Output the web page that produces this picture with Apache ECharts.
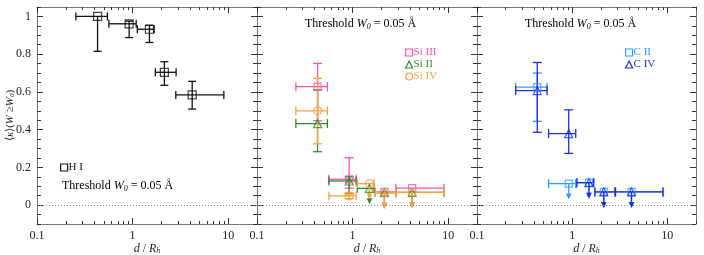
<!DOCTYPE html>
<html><head><meta charset="utf-8">
<script src="https://cdn.jsdelivr.net/npm/echarts@6/dist/echarts.min.js"></script>
<style>html,body{margin:0;padding:0;background:#fff}#c{width:704px;height:255px}</style>
</head><body><div id="c"></div>
<script>
// ---- tick labels ----
const xTickLabels = [0.1, 1, 10];
const xMinorTicks = [0.2, 0.3, 0.4, 0.5, 0.6, 0.7, 0.8, 0.9, 2, 3, 4, 5, 6, 7, 8, 9, 20];
const yTickLabels = [0, 0.2, 0.4, 0.6, 0.8, 1];
const yMinorTicks = [-0.1, -0.05, 0.05, 0.1, 0.15, 0.25, 0.3, 0.35, 0.45, 0.5, 0.55, 0.65, 0.7, 0.75, 0.85, 0.9, 0.95, 1.05];

// ---- impact-parameter bins (d / R_h) ----
const xCenters = [0.43, 0.92, 1.5, 2.15, 4.2];
const xLow = [0.255, 0.565, 1.12, 1.73, 2.83];
const xHigh = [0.545, 1.09, 1.68, 2.85, 9.0];

// ---- H I ----
const hiY = [1.0, 0.961, 0.932, 0.704, 0.584];
const hiYLow = [0.815, 0.888, 0.862, 0.635, 0.509];
const hiYHigh = [1.0, 0.975, 0.953, 0.760, 0.656];
const hiLim = [0, 0, 0, 0, 0];

// ---- Si III ----
const si3Y = [0.628, 0.137, null, 0.07, 0.09];
const si3YLow = [0.447, 0.09, null, null, null];
const si3YHigh = [0.751, 0.251, null, null, null];
const si3Lim = [0, 0, 0, 0, 0];

// ---- Si II ----
const si2Y = [0.432, 0.128, 0.089, 0.066, 0.068];
const si2YLow = [0.283, 0.06, null, null, null];
const si2YHigh = [0.61, 0.15, null, null, null];
const si2Lim = [0, 0, 1, 1, 1];

// ---- Si IV ----
const si4Y = [0.5, 0.049, 0.114, 0.066, 0.068];
const si4YLow = [0.325, 0.035, null, null, null];
const si4YHigh = [0.672, 0.065, null, null, null];
const si4Lim = [0, 0, 1, 1, 1];

// ---- C II ----
const c2Y = [0.625, 0.114, 0.119, 0.07, 0.07];
const c2YLow = [0.444, null, null, null, null];
const c2YHigh = [0.70, null, null, null, null];
const c2Lim = [0, 1, 1, 1, 1];

// ---- C IV ----
const c4Y = [0.607, 0.379, 0.119, 0.07, 0.07];
const c4YLow = [0.386, 0.274, null, null, null];
const c4YHigh = [0.756, 0.505, null, null, null];
const c4Lim = [0, 0, 1, 1, 1];

const FONT = 'Liberation Serif';
const AX = '#777';
const TK = '#333';

const grids = [
  {left: 37, top: 7, width: 220, height: 217, outerBoundsMode: 'none', containLabel: false},
  {left: 257, top: 7, width: 220, height: 217, outerBoundsMode: 'none', containLabel: false},
  {left: 477, top: 7, width: 219, height: 217, outerBoundsMode: 'none', containLabel: false}
];

const xAxes = [], yAxes = [];
function addAxes(g) {
  const base = {type: 'log', min: 0.1, max: 20, gridIndex: g, splitLine: {show: false}, axisLine: {onZero: false, lineStyle: {color: AX, width: 1}}};
  const xi = xAxes.length;
  xAxes.push(Object.assign({}, base, {
    position: 'bottom',
    name: '{i|d} / {i|R}{s|h}', nameLocation: 'middle', nameGap: 18, nameMoveOverlap: false,
    nameTextStyle: {fontFamily: FONT, fontSize: 12, color: '#222', rich: {i: {fontStyle: 'italic', fontFamily: FONT, fontSize: 12}, s: {fontStyle: 'italic', fontFamily: FONT, fontSize: 8, padding: [5, 0, 0, 0]}}},
    axisTick: {inside: true, length: 6, lineStyle: {color: TK}, customValues: xTickLabels},
    axisLabel: {customValues: xTickLabels, fontFamily: FONT, fontSize: 12, color: '#222', margin: 6, formatter: v => String(v)}
  }));
  xAxes.push(Object.assign({}, base, {position: 'bottom', axisLine: {show: false, onZero: false}, axisLabel: {show: false},
    axisTick: {inside: true, length: 3, lineStyle: {color: TK}, customValues: xMinorTicks}}));
  xAxes.push(Object.assign({}, base, {position: 'top', axisLabel: {show: false},
    axisTick: {inside: true, length: 6, lineStyle: {color: TK}, customValues: xTickLabels}}));
  xAxes.push(Object.assign({}, base, {position: 'top', axisLine: {show: false, onZero: false}, axisLabel: {show: false},
    axisTick: {inside: true, length: 3, lineStyle: {color: TK}, customValues: xMinorTicks}}));
  const ybase = {type: 'value', min: -0.1, max: 1.05, gridIndex: g, splitLine: {show: false}, axisLine: {show: true, onZero: false, lineStyle: {color: AX, width: 1}}};
  const yi = yAxes.length;
  yAxes.push(Object.assign({}, ybase, {
    position: 'left',
    name: g === 0 ? '{n|\u27E8}{i|\u03BA}{n|\u27E9(}{i|W} {n|\u2265}{i|W}{s|0}{n|)}' : '',
    nameLocation: 'middle', nameGap: 21, nameRotate: 90, nameMoveOverlap: false,
    nameTextStyle: {fontFamily: FONT, fontSize: 11, color: '#222', rich: {n: {fontFamily: FONT, fontSize: 11}, i: {fontStyle: 'italic', fontFamily: FONT, fontSize: 11}, s: {fontStyle: 'italic', fontFamily: FONT, fontSize: 7, padding: [4, 0, 0, 0]}}},
    axisTick: {inside: true, length: 6, lineStyle: {color: TK}, customValues: yTickLabels},
    axisLabel: {show: g === 0, customValues: yTickLabels, fontFamily: FONT, fontSize: 12, color: '#222', margin: 6}
  }));
  yAxes.push(Object.assign({}, ybase, {position: 'left', axisLine: {show: false, onZero: false}, axisLabel: {show: false},
    axisTick: {inside: true, length: 4, lineStyle: {color: TK}, customValues: yMinorTicks}}));
  yAxes.push(Object.assign({}, ybase, {position: 'right', axisLabel: {show: false},
    axisTick: {inside: true, length: 6, lineStyle: {color: TK}, customValues: yTickLabels}}));
  yAxes.push(Object.assign({}, ybase, {position: 'right', axisLine: {show: false, onZero: false}, axisLabel: {show: false},
    axisTick: {inside: true, length: 4, lineStyle: {color: TK}, customValues: yMinorTicks}}));
  return {xi, yi};
}
const axIdx = grids.map((_, g) => addAxes(g));

function errRender(color, cap) {
  return function (params, api) {
    const xc = api.value(0), yc = api.value(1), xl = api.value(2), xh = api.value(3);
    const yl = api.value(4), yh = api.value(5), lim = api.value(6);
    const c = api.coord([xc, yc]);
    const pl = api.coord([xl, yc]), ph = api.coord([xh, yc]);
    const st = {stroke: color, lineWidth: 1.3};
    const ch = [];
    const ln = (x1, y1, x2, y2) => ch.push({type: 'line', shape: {x1, y1, x2, y2}, style: st});
    ln(pl[0], c[1], ph[0], c[1]);
    ln(pl[0], c[1] - cap / 2, pl[0], c[1] + cap / 2);
    ln(ph[0], c[1] - cap / 2, ph[0], c[1] + cap / 2);
    if (lim) {
      const L = 16;
      ln(c[0], c[1], c[0], c[1] + L - 5);
      ch.push({type: 'polygon', shape: {points: [[c[0] - 2.8, c[1] + L - 6], [c[0] + 2.8, c[1] + L - 6], [c[0], c[1] + L]]}, style: {fill: color}});
    } else {
      if (!isNaN(yl) && yl !== yc) {
        const p = api.coord([xc, yl]);
        ln(c[0], c[1], c[0], p[1]);
        ln(c[0] - cap / 2, p[1], c[0] + cap / 2, p[1]);
      }
      if (!isNaN(yh) && yh !== yc) {
        const p = api.coord([xc, yh]);
        ln(c[0], c[1], c[0], p[1]);
        ln(c[0] - cap / 2, p[1], c[0] + cap / 2, p[1]);
      }
    }
    return {type: 'group', children: ch};
  };
}

const series = [];
function addIon(name, g, color, symbol, size, Y, YL, YH, LIM, cap, zeroLine) {
  const data = [], pts = [];
  xCenters.forEach((x, i) => {
    if (Y[i] == null) return;
    data.push([x, Y[i], xLow[i], xHigh[i], YL[i] == null ? NaN : YL[i], YH[i] == null ? NaN : YH[i], LIM[i]]);
    pts.push([x, Y[i]]);
  });
  const a = axIdx[g];
  series.push({
    type: 'custom', name, xAxisIndex: a.xi, yAxisIndex: a.yi, renderItem: errRender(color, cap),
    encode: {x: 0, y: 1}, data, silent: true, z: 2, clip: false
  });
  const s = {
    type: 'scatter', name, xAxisIndex: a.xi, yAxisIndex: a.yi, data: pts, symbol, symbolSize: size, z: 3, silent: true,
    itemStyle: {color: 'rgba(0,0,0,0)', borderColor: color, borderWidth: 1.2}, color
  };
  if (zeroLine) {
    s.markLine = {silent: true, symbol: 'none', label: {show: false}, lineStyle: {color: '#888', type: [1, 2], width: 1}, data: [{yAxis: 0}]};
  }
  series.push(s);
}
const PINK = '#ff4fac', GREEN = '#2a8a2a', ORANGE = '#ff9f3a', LBLUE = '#2f9bff', BLUE = '#1f2fe0';
addIon('H I', 0, '#111', 'rect', 8, hiY, hiYLow, hiYHigh, hiLim, 8, true);
addIon('Si III', 1, PINK, 'rect', 7, si3Y, si3YLow, si3YHigh, si3Lim, 9, true);
addIon('Si II', 1, GREEN, 'triangle', 8, si2Y, si2YLow, si2YHigh, si2Lim, 9, false);
addIon('Si IV', 1, ORANGE, 'circle', 8, si4Y, si4YLow, si4YHigh, si4Lim, 9, false);
addIon('C II', 2, LBLUE, 'rect', 7, c2Y, c2YLow, c2YHigh, c2Lim, 9, true);
addIon('C IV', 2, BLUE, 'triangle', 8, c4Y, c4YLow, c4YHigh, c4Lim, 9, false);

function leg(items, left, top) {
  return {
    orient: 'vertical', left, top, itemGap: 1, itemWidth: 7, itemHeight: 7, padding: 0, selectedMode: false,
    data: items.map(([n, icon, col]) => ({name: n, icon, itemStyle: {color: 'rgba(0,0,0,0)', borderColor: col, borderWidth: 1.2}, textStyle: {color: col}})),
    textStyle: {fontFamily: FONT, fontSize: 11, padding: [0, 0, 0, -4]}
  };
}
const legend = [
  leg([['H I', 'rect', '#111']], 60, 162),
  leg([['Si III', 'rect', PINK], ['Si II', 'triangle', GREEN], ['Si IV', 'circle', ORANGE]], 405, 47),
  leg([['C II', 'rect', LBLUE], ['C IV', 'triangle', BLUE]], 625, 47)
];

const thrRich = {
  n: {fontFamily: FONT, fontSize: 12, color: '#222'},
  i: {fontFamily: FONT, fontSize: 12, fontStyle: 'italic', color: '#222'},
  s: {fontFamily: FONT, fontSize: 8, fontStyle: 'italic', color: '#222', padding: [5, 0, 0, 0]}
};
const thrText = '{n|Threshold }{i|W}{s|0}{n| = 0.05 \u00C5}';
const graphic = [
  {type: 'text', left: 62, top: 180, style: {text: thrText, rich: thrRich}},
  {type: 'text', left: 305, top: 18, style: {text: thrText, rich: thrRich}},
  {type: 'text', left: 525, top: 18, style: {text: thrText, rich: thrRich}}
];

const chart = echarts.init(document.getElementById('c'), null, {renderer: 'canvas'});
chart.setOption({
  animation: false, backgroundColor: '#fff',
  grid: grids, xAxis: xAxes, yAxis: yAxes, series, legend, graphic
});
</script></body></html>
